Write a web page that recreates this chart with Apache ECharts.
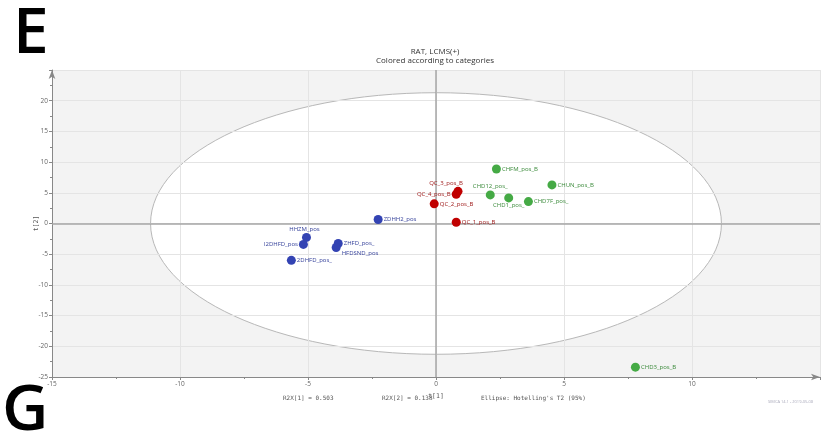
<!DOCTYPE html>
<html>
<head>
<meta charset="utf-8">
<script src="https://cdn.jsdelivr.net/npm/echarts@6/dist/echarts.min.js"></script>
<style>
  html, body { margin: 0; padding: 0; background: #ffffff; }
  #chart { width: 824px; height: 441px; }
</style>
</head>
<body>
<div id="chart"></div>
<script>
// PCA score plot, t[1] vs t[2], grouped by sample category
const blueNames = ['ZDHH2_pos', 'HHZM_pos', 'I2DHFD_pos', 'ZHFD_pos_', 'HFDSND_pos', '2DHFD_pos_'];
const blueT1 = [-2.26, -5.06, -5.18, -3.82, -3.90, -5.65];
const blueT2 = [0.65, -2.27, -3.40, -3.25, -3.90, -6.00];

const redNames = ['QC_3_pos_B', 'QC_4_pos_B', 'QC_2_pos_B', 'QC_1_pos_B'];
const redT1 = [0.86, 0.79, -0.07, 0.79];
const redT2 = [5.24, 4.76, 3.20, 0.21];

const greenNames = ['CHFM_pos_B', 'CHUN_pos_B', 'CHD12_pos_', 'CHD1_pos_', 'CHD7F_pos_', 'CHD3_pos_B'];
const greenT1 = [2.36, 4.53, 2.12, 2.84, 3.61, 7.79];
const greenT2 = [8.87, 6.28, 4.66, 4.17, 3.57, -23.40];

// Hotelling's T2 (95%) ellipse half-widths along t[1] and t[2]
const ellipseT1 = 11.15;
const ellipseT2 = 21.3;

const xTicks = [-15, -10, -5, 0, 5, 10];
const yTicks = [-25, -20, -15, -10, -5, 0, 5, 10, 15, 20];

// label placement per point: [position, dx, dy]
const blueLabelPos = [['right', 0, 0], ['top', -2, 0], ['left', 0, 0], ['right', 0, 0], ['right', 0, 6], ['right', 0, 0]];
const redLabelPos = [['top', -12, 0], ['left', 0, 0], ['right', 0, 0], ['right', 0, 0]];
const greenLabelPos = [['right', 0, 0], ['right', 0, 0], ['top', 0, 0], ['bottom', 0, -1], ['right', 0, 0], ['right', 0, 0]];

function points(names, t1, t2, pos, color) {
  return names.map((n, i) => ({
    name: n,
    value: [t1[i], t2[i]],
    label: { position: pos[i][0], offset: [pos[i][1], pos[i][2]], color: color }
  }));
}

const chart = echarts.init(document.getElementById('chart'), null, { renderer: 'canvas' });

const axisText = { fontSize: 6.5, color: '#666', fontFamily: 'Open Sans' };

function scatter(name, data, color) {
  return {
    name: name,
    type: 'scatter',
    data: data,
    symbolSize: 9,
    z: 3,
    itemStyle: { color: color, opacity: 1 },
    label: {
      show: true,
      formatter: '{b}',
      fontSize: 6,
      fontFamily: 'Open Sans',
      distance: 1
    }
  };
}

const option = {
  animation: false,
  backgroundColor: '#ffffff',
  title: {
    text: 'RAT, LCMS(+)',
    subtext: 'Colored according to categories',
    left: 430,
    textAlign: 'center',
    top: 43,
    itemGap: 1,
    textStyle: { fontSize: 8, fontWeight: 'normal', color: '#333', fontFamily: 'Open Sans' },
    subtextStyle: { fontSize: 8, color: '#333', fontFamily: 'Open Sans' }
  },
  grid: {
    left: 52, right: 4, top: 70, bottom: 64,
    show: true, backgroundColor: '#f3f3f3', borderWidth: 0, z: -2
  },
  xAxis: {
    type: 'value', min: -15, max: 15, interval: 5,
    name: 't[1]', nameLocation: 'middle', nameGap: 16, nameMoveOverlap: false,
    nameTextStyle: { fontSize: 6.5, color: '#555', fontFamily: 'DejaVu Sans Mono' },
    axisLine: { onZero: false, symbol: ['none', 'arrow'], symbolSize: [5, 9], lineStyle: { color: '#888', width: 1 } },
    axisTick: { show: true, length: 3, lineStyle: { color: '#888' } },
    minorTick: { show: true, splitNumber: 2, length: 2, lineStyle: { color: '#888' } },
    axisLabel: {
      ...axisText, margin: 4,
      formatter: v => xTicks.includes(v) ? String(v) : ''
    },
    splitLine: { show: true, lineStyle: { color: '#e4e4e4', width: 1 } }
  },
  yAxis: {
    type: 'value', min: -25, max: 25, interval: 5,
    name: 't[2]', nameLocation: 'middle', nameGap: 12, nameRotate: 90, nameMoveOverlap: false,
    nameTextStyle: { fontSize: 6.5, color: '#555', fontFamily: 'DejaVu Sans Mono' },
    axisLine: { onZero: false, symbol: ['none', 'arrow'], symbolSize: [5, 9], lineStyle: { color: '#888', width: 1 } },
    axisTick: { show: true, length: 3, lineStyle: { color: '#888' } },
    minorTick: { show: true, splitNumber: 2, length: 2, lineStyle: { color: '#888' } },
    axisLabel: {
      ...axisText, margin: 4,
      formatter: v => yTicks.includes(v) ? String(v) : ''
    },
    splitLine: { show: true, lineStyle: { color: '#e4e4e4', width: 1 } }
  },
  series: [
    {
      // white confidence region with its outline
      type: 'custom',
      z: -1,
      silent: true,
      data: [[0, 0]],
      renderItem: function (params, api) {
        const c = api.coord([0, 0]);
        const ex = api.coord([ellipseT1, 0]);
        const ey = api.coord([0, ellipseT2]);
        return {
          type: 'ellipse',
          shape: { cx: c[0], cy: c[1], rx: ex[0] - c[0], ry: c[1] - ey[1] },
          style: { fill: '#ffffff', stroke: '#b8b8b8', lineWidth: 1 }
        };
      }
    },
    Object.assign(scatter('HFD', points(blueNames, blueT1, blueT2, blueLabelPos, '#34409a'), '#3343b3'), {
      markLine: {
        silent: true,
        symbol: 'none',
        label: { show: false },
        lineStyle: { color: '#a6a6a6', type: 'solid', width: 1.5 },
        data: [{ xAxis: 0 }, { yAxis: 0 }],
        z: 1
      }
    }),
    scatter('QC', points(redNames, redT1, redT2, redLabelPos, '#9c1414'), '#c00000'),
    scatter('CHD', points(greenNames, greenT1, greenT2, greenLabelPos, '#3a8a3a'), '#45aa45')
  ],
  graphic: [
    { type: 'text', left: 13, top: 3, style: { text: 'E', fontSize: 64, fontWeight: 600, fontFamily: 'Open Sans', fill: '#000' } },
    { type: 'text', left: 2, top: 380, style: { text: 'G', fontSize: 64, fontWeight: 600, fontFamily: 'Open Sans', fill: '#000' } },
    { type: 'text', left: 283, top: 395, style: { text: 'R2X[1] = 0.503', fontSize: 6, fontFamily: 'DejaVu Sans Mono', fill: '#555' } },
    { type: 'text', left: 382, top: 395, style: { text: 'R2X[2] = 0.138', fontSize: 6, fontFamily: 'DejaVu Sans Mono', fill: '#555' } },
    { type: 'text', left: 481, top: 395, style: { text: "Ellipse: Hotelling's T2 (95%)", fontSize: 6, fontFamily: 'DejaVu Sans Mono', fill: '#555' } },
    { type: 'text', left: 768, top: 400, style: { text: 'SIMCA 14.1 - 2019-05-08', fontSize: 4, fontFamily: 'Open Sans', fill: '#aab' } }
  ]
};

chart.setOption(option);
</script>
</body>
</html>
